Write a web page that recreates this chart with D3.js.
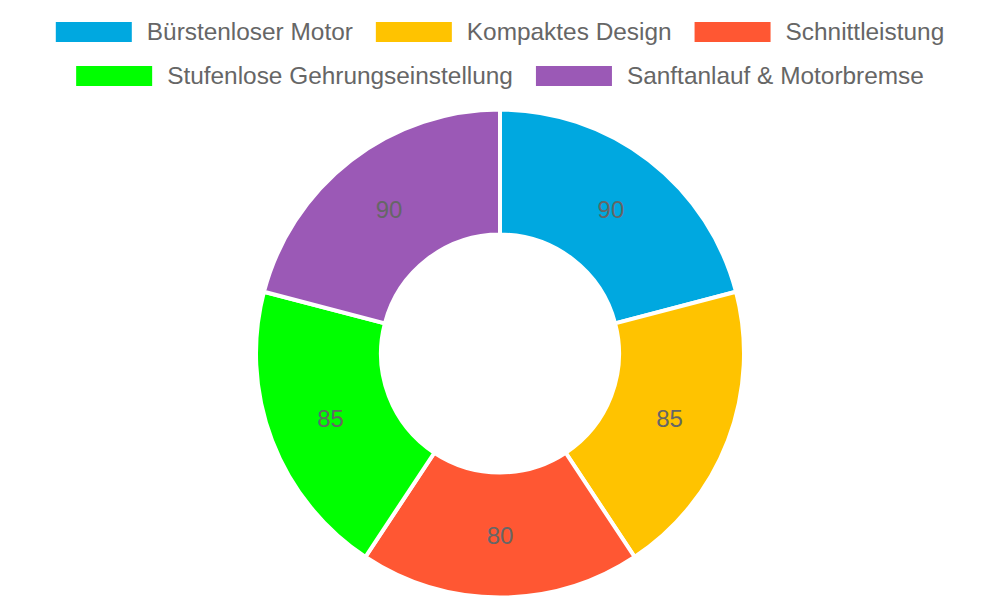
<!DOCTYPE html>
<html>
<head>
<meta charset="utf-8">
<script src="https://cdn.jsdelivr.net/npm/d3@7"></script>
<style>
  html, body { margin: 0; padding: 0; background: #fff; }
  svg { display: block; }
  text { font-family: "Liberation Sans", Arial, sans-serif; }
</style>
</head>
<body>
<svg id="chart" width="1000" height="600"></svg>
<script>
const categories = ["Bürstenloser Motor", "Kompaktes Design", "Schnittleistung", "Stufenlose Gehrungseinstellung", "Sanftanlauf & Motorbremse"];
const values = [90, 85, 80, 85, 90];
const colors = ["#00A8E0", "#FFC300", "#FF5733", "#00FF00", "#9B59B6"];

const width = 1000, height = 600;
const svg = d3.select("#chart");

// Legend layout: two centred rows
const legendRows = [[0, 1, 2], [3, 4]];
const boxW = 76, boxH = 20, textGap = 15, itemGap = 23, fontSize = 24.4;
const rowCenters = [32, 76];
const legend = svg.append("g");

const measure = svg.append("text").style("font-size", fontSize + "px");
const widths = categories.map(c => { measure.text(c); return measure.node().getComputedTextLength(); });
measure.remove();

legendRows.forEach((row, ri) => {
  const itemW = row.map(i => boxW + textGap + widths[i]);
  const total = d3.sum(itemW) + itemGap * (row.length - 1);
  let x = width / 2 - total / 2;
  const cy = rowCenters[ri];
  row.forEach((i, k) => {
    legend.append("rect")
      .attr("x", x).attr("y", cy - boxH / 2)
      .attr("width", boxW).attr("height", boxH)
      .attr("fill", colors[i]);
    legend.append("text")
      .attr("x", x + boxW + textGap).attr("y", cy - 0.5)
      .attr("dy", "0.36em")
      .style("font-size", fontSize + "px")
      .attr("fill", "#666")
      .text(categories[i]);
    x += itemW[k] + itemGap;
  });
});

// Donut
const cx = 500, cy = 353.5;
const outerR = 244, innerR = 119;
const pie = d3.pie().sort(null).value(d => d)(values);
const arc = d3.arc().innerRadius(innerR).outerRadius(outerR);
const g = svg.append("g").attr("transform", `translate(${cx},${cy})`);

g.selectAll("path.slice").data(pie).join("path")
  .attr("class", "slice")
  .attr("d", arc)
  .attr("fill", (d, i) => colors[i])
  .attr("stroke", "#fff")
  .attr("stroke-width", 4);

const labelArc = d3.arc().innerRadius((innerR + outerR) / 2).outerRadius((innerR + outerR) / 2);
g.selectAll("text.lbl").data(pie).join("text")
  .attr("class", "lbl")
  .attr("transform", d => `translate(${labelArc.centroid(d)})`)
  .attr("text-anchor", "middle")
  .attr("dy", "0.36em")
  .style("font-size", "24px")
  .attr("fill", "#666")
  .text(d => d.data);
</script>
</body>
</html>
